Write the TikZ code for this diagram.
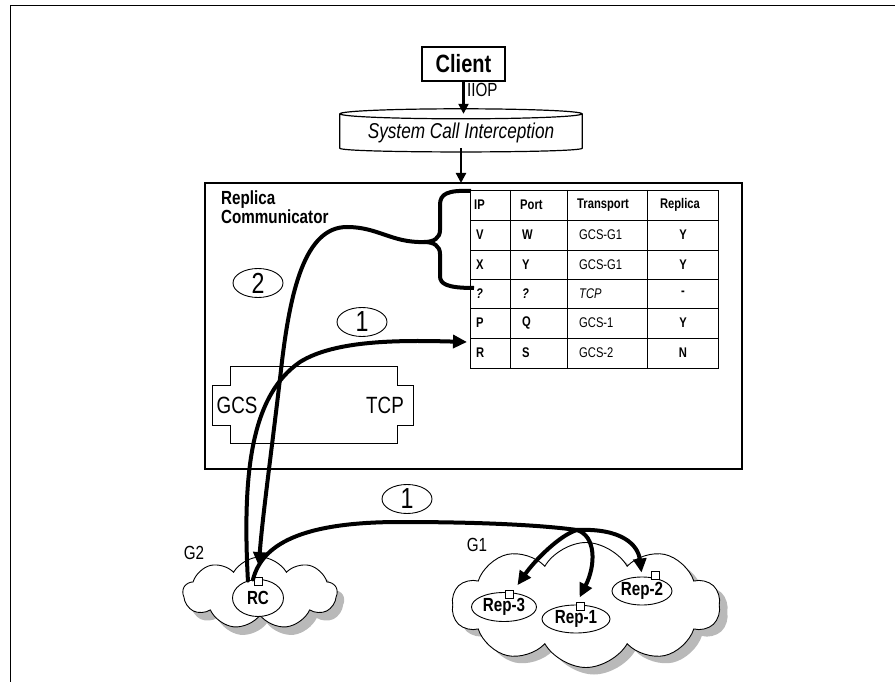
\documentclass[tikz,border=0pt]{standalone}
\usepackage{fontspec}
\setmainfont{Liberation Sans}[FakeStretch=0.8]
\usetikzlibrary{arrows.meta, positioning, calc, shapes.geometric, shapes.symbols}

\begin{document}
\begin{tikzpicture}[
  x=1pt, y=-1pt,
  box/.style={draw, line width=1.2pt, inner sep=0pt},
  flow/.style={line width=4pt, line cap=round, -{Triangle[length=14pt, width=13pt]}},
  thinarr/.style={line width=2.2pt, -{Triangle[length=10pt, width=10pt]}},
  num/.style={ellipse, draw, line width=0.9pt, inner sep=0pt,
    minimum width=50pt, minimum height=29pt, font=\fontsize{29}{29}\selectfont},
  host/.style={ellipse, draw, line width=0.9pt, fill=white, inner sep=0pt,
    font=\bfseries\fontsize{19}{19}\selectfont},
  tag/.style={draw, fill=white, line width=0.8pt, minimum size=8pt, inner sep=0pt},
  net/.style={cloud, cloud puffs=10, cloud puff arc=120, cloud ignores aspect,
    draw, fill=white, line width=0.9pt, inner sep=0pt},
  netshadow/.style={cloud, cloud puffs=10, cloud puff arc=120, cloud ignores aspect,
    fill=gray!55, inner sep=0pt},
  cell/.style={font=\fontsize{14}{14}\selectfont, inner sep=0pt, anchor=west},
  hd/.style={cell, font=\bfseries\fontsize{14}{14}\selectfont},
]
\useasboundingbox (0,0) rectangle (895,682);

% page frame (top and left only)
\draw[line width=1pt] (10,682) -- (10,6) -- (895,6);

% networks
\node[netshadow, cloud puffs=9, minimum width=154pt, minimum height=72pt] (g2shadow) at (267,601) {};
\node[net, cloud puffs=9, minimum width=154pt, minimum height=72pt] (g2) at (260,593) {};
\node[netshadow, minimum width=268pt, minimum height=125pt] (g1shadow) at (594,612) {};
\node[net, minimum width=268pt, minimum height=125pt] (g1) at (586,605) {};
\node[font=\fontsize{19}{19}\selectfont] (g2lbl) at (194,553) {G2};
\node[font=\fontsize{19}{19}\selectfont] (g1lbl) at (477,545) {G1};

% hosts
\node[host, minimum width=51pt, minimum height=37pt] (rc) at (258,598) {RC};
\node[host, minimum width=65pt, minimum height=29pt] (rep3) at (504,607) {Rep-3};
\node[host, minimum width=68pt, minimum height=28pt] (rep1) at (576,619) {Rep-1};
\node[host, minimum width=60pt, minimum height=28pt] (rep2) at (642,591) {Rep-2};
\node[tag] (rctag) at (258,581) {};
\node[tag] (rep3tag) at (509,594) {};
\node[tag] (rep1tag) at (580,606) {};
\node[tag] (rep2tag) at (655,575) {};

% client side
\node[box, font=\bfseries\fontsize{25}{25}\selectfont,
  minimum width=83pt, minimum height=34pt] (client) at (463.5,64) {Client};
\node[font=\fontsize{19}{19}\selectfont, anchor=west, inner sep=0pt] (iiop) at (467,90) {IIOP};
\node[minimum width=242pt, minimum height=34pt] (sci) at (461,131) {};
\fill[white] (sci.north west) -- (sci.south west)
  .. controls ($(sci.south west)+(0,5)$) and ($(sci.south east)+(0,5)$) .. (sci.south east)
  -- (sci.north east) -- cycle;
\draw[line width=1.2pt] (sci.north west) -- (sci.south west)
  .. controls ($(sci.south west)+(0,5)$) and ($(sci.south east)+(0,5)$) .. (sci.south east)
  -- (sci.north east);
\draw[line width=1.2pt, fill=white] (sci.north) ellipse [x radius=121pt, y radius=5pt];
\node[font=\itshape\fontsize{21.5}{21.5}\selectfont] (scitxt) at ($(sci.center)+(0,2)$)
  {System Call Interception};
\draw[thinarr] (client.south) -- (client.south |- sci.north);
\draw[thinarr] (sci.south) -- (sci.south |- 0,183);

% replica communicator
\node[box, minimum width=537pt, minimum height=286pt] (rcbox) at (473.5,326) {};
\node[anchor=north west, align=left, inner sep=0pt,
  font=\bfseries\fontsize{19}{16.5}\selectfont] (rclbl) at (221,191) {Replica\\Communicator};

% GCS / TCP stack
\draw[line width=0.9pt] (230,366) -- (397,366) -- (397,385) -- (413,385) -- (413,425)
  -- (397,425) -- (397,443) -- (230,443) -- (230,425) -- (212,425) -- (212,385)
  -- (230,385) -- cycle;
\node[font=\fontsize{23.5}{23.5}\selectfont] (gcs) at (237,405) {GCS};
\node[font=\fontsize{23.5}{23.5}\selectfont] (tcp) at (385,405) {TCP};

% routing table
\draw[line width=0.8pt] (470,190) rectangle (718,368);
\foreach \y in {220,250,279,308,338}
  \draw[line width=0.8pt] (470,\y) -- (718,\y);
\foreach \x in {510,567,647}
  \draw[line width=0.8pt] (\x,190) -- (\x,368);
\node[hd] (h1) at (474,205) {IP};
\node[hd] (h2) at (520,205) {Port};
\node[hd] (h3) at (577,205) {Transport};
\node[hd, anchor=center] (h4) at (680,205) {Replica};
\foreach \y/\a/\b/\c/\d [count=\r] in {235/V/W/GCS-G1/Y, 264.5/X/Y/GCS-G1/Y,
    293.5/{\itshape ?}/{\itshape ?}/{\itshape TCP}/-, 323/P/Q/GCS-1/Y, 353/R/S/GCS-2/N} {
  \node[hd] (r\r-1) at (476,\y) {\a};
  \node[hd] (r\r-2) at (522,\y) {\b};
  \node[cell] (r\r-3) at (579,\y) {\c};
  \node[hd, anchor=center] (r\r-4) at (683,\y) {\d};
}

% step labels
\node[num] (n2) at (258,283) {2};
\node[num] (n1a) at (362,322) {1};
\node[num] (n1b) at (407,499) {1};

% brace over the table rows
\coordinate (btop) at (471,191);
\coordinate (bbot) at (474,288);
\coordinate (btip) at (424,242);
\draw[line width=4pt] (btop) .. controls (447,190) and (440,194) .. (440,205)
  -- (440,230) .. controls (440,238) and (434,242) .. (btip)
  .. controls (434,242) and (440,246) .. (440,254) -- (440,276)
  .. controls (440,284) and (447,288) .. (bbot);

% step 2: lookup result back to RC
\draw[flow, shorten >=13pt] (btip) .. controls (392,243) and (378,227) .. (347,227)
  .. controls (305,227) and (290,290) .. (281,370)
  .. controls (273,440) and (262,520) .. (rc.north);

% step 1: RC registers in table
\coordinate (rowR) at (467,342);
\draw[flow] (rc.120) .. controls (242,470) and (252,395) .. (300,362)
  .. controls (335,340) and (400,340) .. (rowR);

% step 1: multicast to G1 replicas
\coordinate (split) at (577,530);
\draw[line width=4pt, line cap=round] (rc.105) .. controls (262,545) and (300,522) .. (400,522)
  .. controls (480,522) and (540,525) .. (split);
\draw[flow, shorten >=9pt] (split) .. controls (560,535) and (535,560) .. (rep3.60);
\draw[flow, shorten >=8pt] (split) .. controls (596,536) and (596,565) .. (rep1.north);
\draw[flow, shorten >=4pt] (split) .. controls (622,528) and (638,545) .. (rep2.north);
\end{tikzpicture}
\end{document}
